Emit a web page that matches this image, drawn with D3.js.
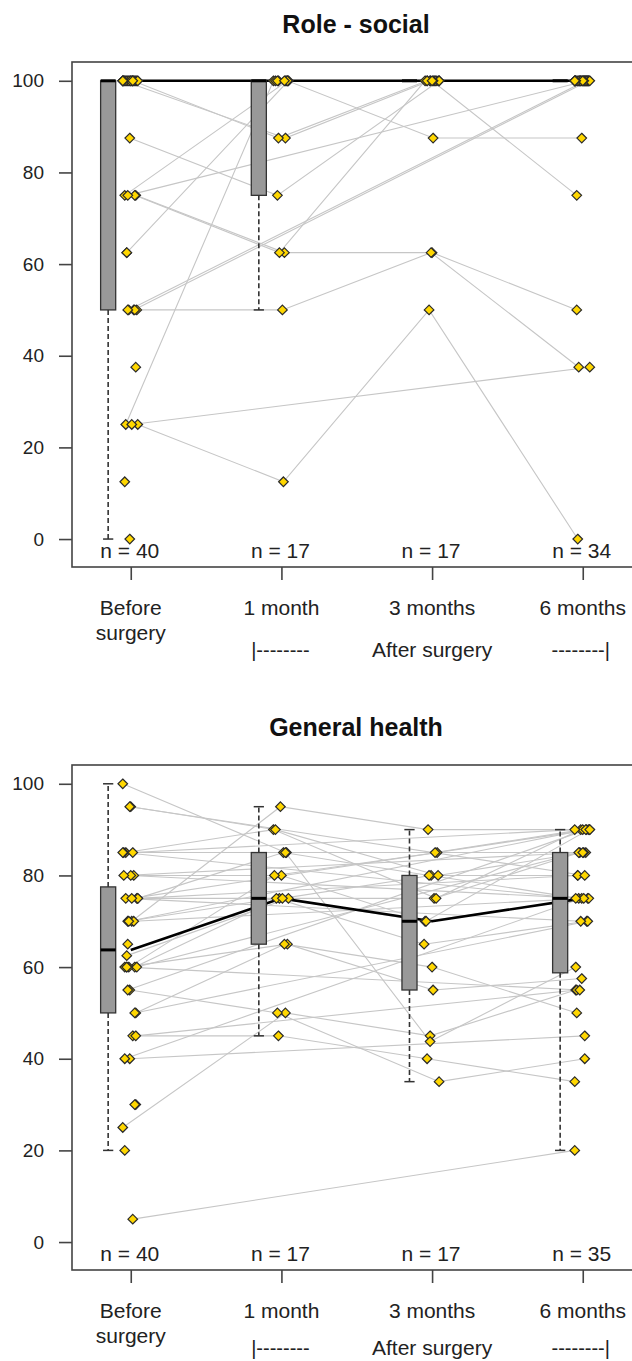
<!DOCTYPE html>
<html><head><meta charset="utf-8">
<script src="https://cdn.jsdelivr.net/npm/d3@7"></script>
<style>body{margin:0;background:#fff}svg{display:block}text{font-family:"Liberation Sans",Arial,sans-serif;fill:#222}</style>
</head><body>
<svg id="chart" width="632" height="1361"></svg>
<script>
// ---- categories / labels ----
const timePoints = ["Before surgery", "1 month", "3 months", "6 months"];
const timeLabelLines = [["Before", "surgery"], ["1 month"], ["3 months"], ["6 months"]];
const afterLabels = ["|--------", "After surgery", "--------|"];
const yTicks = [0, 20, 40, 60, 80, 100];
const panelTitles = ["Role - social", "General health"];

// ---- Role - social: one entry per patient (null = not measured) ----
const roleBefore = [100,100,87.5,75,75,75,75,62.5,50,50,50,25,25,25,
  100,100,100,100,100,100,100,
  100,100,100,100,100,100,100,100,100,100,100,100,100,
  0,12.5,37.5,50,50,62.5];
const role1m = [87.5,87.5,75,100,62.5,62.5,null,100,50,null,null,100,12.5,null,
  100,100,100,100,100,100,100,
  null,null,null,null,null,null,null,null,null,null,null,null,null,
  null,null,null,null,null,null];
const role3m = [100,100,100,87.5,62.5,100,null,100,62.5,null,null,100,50,null,
  100,100,100,100,100,100,100,
  null,null,null,null,null,null,null,null,null,null,null,null,null,
  null,null,null,null,null,null];
const role6m = [100,100,100,87.5,50,100,100,100,37.5,100,100,100,0,37.5,
  100,100,100,100,100,100,75,
  100,100,100,100,100,100,100,100,100,100,100,100,100,
  null,null,null,null,null,null];

// ---- General health ----
const ghBefore = [25,45,55,60,50,60,70,62.5,75,80,60,85,75,70,95,85,100,
  5,40,40,45,50,55,60,60,70,70,75,75,75,80,80,85,85,95,
  20,30,30,65,60];
const gh1m = [50,45,50,65,65,75,75,75,75,80,80,90,85,95,90,85,85,
  null,null,null,null,null,null,null,null,null,null,null,null,null,null,null,null,null,null,
  null,null,null,null,null];
const gh3m = [45,40,35,55,60,70,65,75,80,70,85,75,80,90,80,85,43.75,
  null,null,null,null,null,null,null,null,null,null,null,null,null,null,null,null,null,null,
  null,null,null,null,null];
const gh6m = [55,35,40,57.5,50,75,70,85,75,90,85,90,80,90,85,90,60,
  20,45,75,55,70,90,55,85,75,90,70,80,90,75,85,75,90,80,
  null,null,null,null,null];

const panels = [
  {title: panelTitles[0], cols: [roleBefore, role1m, role3m, role6m], off: 0, bottomRow: 657},
  {title: panelTitles[1], cols: [ghBefore, gh1m, gh3m, gh6m], off: 703, bottomRow: 652}
];

const jitterPx = [-8,-4,0,4,7,-6,-2,2,6,-7,-3,1,5,-5,-1,3];

function boxStats(vals){
  const s = vals.filter(v => v != null).sort((a,b) => a-b);
  const n = s.length;
  const n4 = Math.floor((n+3)/2)/2;
  const idx = [1, n4, (n+1)/2, n+1-n4, n];
  const f = idx.map(k => 0.5*(s[Math.floor(k)-1] + s[Math.ceil(k)-1]));
  const iqr = f[3]-f[1];
  const lo = d3.min(s.filter(v => v >= f[1]-1.5*iqr));
  const hi = d3.max(s.filter(v => v <= f[3]+1.5*iqr));
  return {q1:f[1], med:f[2], q3:f[3], lo, hi, n};
}

const svg = d3.select("#chart");
const x = d3.scaleLinear().domain([0.61, 4.38]).range([72, 640]);

panels.forEach(p => {
  const off = p.off;
  const y = d3.scaleLinear().domain([-6.1, 104.1]).range([567+off, 62+off]);
  const g = svg.append("g");

  g.append("text").attr("x", 356).attr("y", 33+off).attr("text-anchor","middle")
    .style("font-size","25px").style("font-weight","bold").style("fill","#111").text(p.title);

  // patient lines
  const nPat = p.cols[0].length;
  const jx = (i, c) => x(c+1) + jitterPx[(i*7 + c*3) % jitterPx.length];
  const line = d3.line().x(d => d[0]).y(d => d[1]);
  const pts = [];
  for (let i = 0; i < nPat; i++) {
    const path = [];
    p.cols.forEach((col, c) => { if (col[i] != null) path.push([jx(i,c), y(col[i])]); });
    path.forEach(q => pts.push(q));
    if (path.length > 1) g.append("path").attr("d", line(path)).attr("fill","none")
      .attr("stroke","#c6c6c6").attr("stroke-width",1.1);
  }

  const stats = p.cols.map(boxStats);

  // median connecting line
  g.append("path").attr("d", line(stats.map((s,c) => [x(c+1), y(s.med)])))
    .attr("fill","none").attr("stroke","#000").attr("stroke-width",2.6);

  // boxes
  stats.forEach((s, c) => {
    const cx = x(c+1-0.15), bx0 = x(c+1-0.2), bx1 = x(c+1-0.1);
    const sx0 = x(c+1-0.15-0.034), sx1 = x(c+1-0.15+0.034);
    [[s.q1, s.lo], [s.q3, s.hi]].forEach(([a,b]) => {
      if (a !== b) g.append("line").attr("x1",cx).attr("x2",cx).attr("y1",y(a)).attr("y2",y(b))
        .attr("stroke","#333").attr("stroke-width",1.6).attr("stroke-dasharray","5,3");
      g.append("line").attr("x1",sx0).attr("x2",sx1).attr("y1",y(b)).attr("y2",y(b))
        .attr("stroke","#333").attr("stroke-width",1.5);
    });
    g.append("rect").attr("x",bx0).attr("y",y(s.q3)).attr("width",bx1-bx0)
      .attr("height",Math.max(0, y(s.q1)-y(s.q3))).attr("fill","#999").attr("stroke","#333").attr("stroke-width",1.3);
    g.append("line").attr("x1",bx0).attr("x2",bx1).attr("y1",y(s.med)).attr("y2",y(s.med))
      .attr("stroke","#000").attr("stroke-width",3);
    g.append("text").attr("x", x(c+1)-1).attr("y", 558+off).attr("text-anchor","middle")
      .style("font-size","21px").text("n = " + s.n);
  });

  // points
  g.selectAll("path.pt").data(pts).enter().append("path").attr("class","pt")
    .attr("d", d => `M${d[0]},${d[1]-4.8}L${d[0]+4.8},${d[1]}L${d[0]},${d[1]+4.8}L${d[0]-4.8},${d[1]}Z`)
    .attr("fill","#ffd700").attr("stroke","#2a2a2a").attr("stroke-width",1.2);

  // frame
  g.append("rect").attr("x",72).attr("y",62+off).attr("width",568).attr("height",505)
    .attr("fill","none").attr("stroke","#444").attr("stroke-width",1.6);

  // y axis
  const ya = g.append("g").attr("transform","translate(72,0)")
    .call(d3.axisLeft(y).tickValues(yTicks).tickSize(13).tickPadding(15));
  ya.select(".domain").remove();
  ya.selectAll(".tick line").attr("stroke","#444").attr("stroke-width",1.6);
  ya.selectAll(".tick text").style("font-size","19px").style("font-family",'"Liberation Sans",Arial,sans-serif').attr("fill","#222");

  // x axis
  const xa = g.append("g").attr("transform",`translate(0,${567+off})`)
    .call(d3.axisBottom(x).tickValues([1,2,3,4]).tickSize(13).tickFormat(""));
  xa.select(".domain").remove();
  xa.selectAll(".tick line").attr("stroke","#444").attr("stroke-width",1.6);

  timeLabelLines.forEach((lines, c) => {
    lines.forEach((t, k) => {
      g.append("text").attr("x", x(c+1)).attr("y", 615+off+k*25).attr("text-anchor","middle")
        .style("font-size","21px").text(t);
    });
  });
  const rowY = p.bottomRow + off;
  g.append("text").attr("x", x(2)-1).attr("y", rowY).attr("text-anchor","middle")
    .style("font-size","20px").text(afterLabels[0]);
  g.append("text").attr("x", x(3)).attr("y", rowY).attr("text-anchor","middle")
    .style("font-size","21px").text(afterLabels[1]);
  g.append("text").attr("x", x(4)-2).attr("y", rowY).attr("text-anchor","middle")
    .style("font-size","20px").text(afterLabels[2]);
});
</script>
</body></html>
